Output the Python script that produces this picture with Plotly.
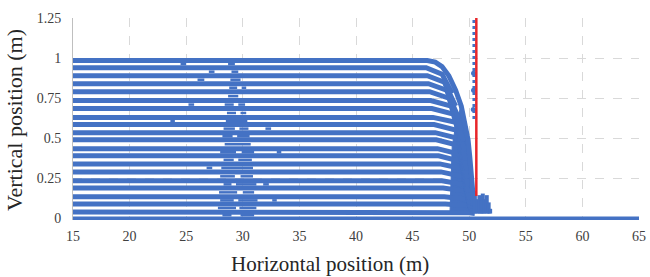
import plotly.graph_objects as go

# ---------------- data ----------------
# particle layers (m): height of each layer
row_y = [0.04, 0.09, 0.135, 0.19, 0.235, 0.29, 0.34, 0.39, 0.435, 0.49,
         0.535, 0.585, 0.63, 0.685, 0.735, 0.79, 0.84, 0.89, 0.94]
row_start_x = 15
row_flat_end_x = [48.0, 47.9, 47.8, 47.7, 47.6, 47.5, 47.4, 47.3, 47.2, 47.1,
                  47.0, 46.9, 46.8, 46.7, 46.6, 46.5, 46.4, 46.3, 46.2]
row_mid_x = [50.0, 49.9, 49.8, 49.7, 49.6, 49.5, 49.4, 49.3, 49.2, 49.1,
             49.0, 48.9, 48.8, 48.6, 48.4, 48.2, 48.0, 47.8, 47.6]
row_mid_y = [0.035, 0.08, 0.12, 0.17, 0.21, 0.26, 0.31, 0.355, 0.40, 0.455,
             0.50, 0.55, 0.60, 0.65, 0.70, 0.75, 0.80, 0.85, 0.90]
row_end_x = [50.5, 50.4, 50.3, 50.2, 50.15, 50.1, 50.05, 50.0, 49.95, 49.9,
             49.85, 49.8, 49.7, 49.6, 49.5, 49.3, 49.1, 48.8, 48.5]
row_end_y = [0.03, 0.04, 0.045, 0.05, 0.06, 0.07, 0.09, 0.12, 0.16, 0.20,
             0.25, 0.30, 0.36, 0.42, 0.48, 0.55, 0.62, 0.70, 0.78]

# free-surface layer (top row) and its falling front
surface_x = [15, 46.3, 47.0, 47.6, 48.2, 48.8, 49.3, 49.6, 49.9, 50.05, 50.2, 50.3, 50.35]
surface_y = [0.985, 0.985, 0.975, 0.947, 0.89, 0.80, 0.70, 0.60, 0.49, 0.385, 0.28, 0.18, 0.08]

# densely packed particles behind the front
front_mass_x = [48.3, 48.5, 48.9, 49.3, 49.6, 49.9, 50.05, 50.2, 50.3, 50.35, 48.3]
front_mass_y = [0.03, 0.45, 0.62, 0.70, 0.60, 0.49, 0.385, 0.28, 0.18, 0.03, 0.03]

# disturbed particles filling gaps between layers near x = 28-31 m
gap_x0 = [28.2, 29.8, 27.8, 29.7, 28.0, 29.6, 27.9, 30.0, 28.3, 29.4, 28.0, 29.8,
          28.1, 28.3, 29.6, 28.0, 29.9, 28.4, 28.2, 29.5, 28.3, 29.7, 28.5,
          28.6, 29.8, 28.4, 29.6, 28.7, 28.8, 29.9, 28.9, 29.0, 28.7,
          24.5, 26.0, 25.2, 32.0, 33.0, 31.8, 26.8, 32.6, 23.6, 27.0]
gap_x1 = [29.0, 31.0, 29.4, 31.2, 29.2, 31.3, 29.5, 31.0, 29.0, 31.2, 29.3, 30.9,
          30.9, 29.2, 30.8, 29.4, 31.0, 30.7, 29.1, 30.6, 29.3, 30.5, 30.4,
          29.4, 30.3, 29.2, 30.2, 29.6, 29.5, 30.3, 29.8, 29.6, 29.3,
          25.0, 26.6, 25.7, 32.5, 33.4, 32.3, 27.3, 33.0, 24.0, 27.5]
gap_y = [0.02, 0.02, 0.065, 0.065, 0.1125, 0.1125, 0.1625, 0.1625, 0.2125, 0.2125,
         0.2625, 0.2625, 0.315, 0.365, 0.365, 0.4125, 0.4125, 0.4625, 0.5125, 0.5125,
         0.56, 0.56, 0.6075, 0.6575, 0.6575, 0.71, 0.71, 0.7625, 0.815, 0.815,
         0.865, 0.915, 0.9625,
         0.9625, 0.865, 0.71, 0.56, 0.4125, 0.2125, 0.315, 0.1125, 0.6075, 0.915]

# splash at the foot of the wall
splash_x = [50.5, 50.7, 50.9, 51.05, 51.2, 51.35, 51.55, 51.72, 51.85]
splash_top = [0.17, 0.12, 0.145, 0.11, 0.155, 0.12, 0.145, 0.10, 0.06]
splash_base = 0.03

# bed (floor particles)
floor_x = [15, 65]
floor_y = [0, 0]

# particles along the wall
wall_particle_x = [50.42, 50.42]
wall_particle_y = [0.62, 1.25]
blob_x = [50.38, 50.38, 50.36]
blob_y = [0.906, 0.80, 0.68]

# wall (red)
wall_x = [50.63, 50.63]
wall_y = [0.14, 1.25]

x_ticks = [15, 20, 25, 30, 35, 40, 45, 50, 55, 60, 65]
y_ticks = [0, 0.25, 0.5, 0.75, 1, 1.25]
y_tick_labels = ["0", "0.25", "0.5", "0.75", "1", "1.25"]

BLUE = "#4472C4"
RED = "#E8262A"
FONT = "Liberation Serif"

# ---------------- build ----------------
fig = go.Figure()

fig.add_trace(go.Scatter(x=front_mass_x, y=front_mass_y, mode="lines", fill="toself",
                         fillcolor=BLUE, line=dict(color=BLUE, width=1), hoverinfo="skip"))

lx, ly = [], []
for i, y in enumerate(row_y):
    lx += [row_start_x, row_flat_end_x[i], row_mid_x[i], row_end_x[i], None]
    ly += [y, y, row_mid_y[i], row_end_y[i], None]
fig.add_trace(go.Scatter(x=lx, y=ly, mode="lines",
                         line=dict(color=BLUE, width=5), hoverinfo="skip"))

fig.add_trace(go.Scatter(x=surface_x, y=surface_y, mode="lines",
                         line=dict(color=BLUE, width=5), hoverinfo="skip"))

gx, gy = [], []
for a, b, y in zip(gap_x0, gap_x1, gap_y):
    gx += [a, b, None]
    gy += [y, y, None]
fig.add_trace(go.Scatter(x=gx, y=gy, mode="lines",
                         line=dict(color=BLUE, width=2.5), hoverinfo="skip"))

sx, sy = [], []
for x, t in zip(splash_x, splash_top):
    sx += [x, x, None]
    sy += [splash_base, t, None]
fig.add_trace(go.Scatter(x=sx, y=sy, mode="lines",
                         line=dict(color=BLUE, width=4), hoverinfo="skip"))

fig.add_trace(go.Scatter(x=floor_x, y=floor_y, mode="lines",
                         line=dict(color=BLUE, width=4), hoverinfo="skip"))

fig.add_trace(go.Scatter(x=wall_particle_x, y=wall_particle_y, mode="lines",
                         line=dict(color=BLUE, width=3, dash="dot"), hoverinfo="skip"))
fig.add_trace(go.Scatter(x=blob_x, y=blob_y, mode="markers",
                         marker=dict(color=BLUE, size=5), hoverinfo="skip"))

fig.add_trace(go.Scatter(x=wall_x, y=wall_y, mode="lines",
                         line=dict(color=RED, width=2.5), hoverinfo="skip"))

fig.update_layout(
    width=650, height=277,
    margin=dict(l=73, r=11, t=18, b=57, autoexpand=False),
    paper_bgcolor="white", plot_bgcolor="white",
    showlegend=False,
    font=dict(family=FONT, color="#404040", size=14),
    annotations=[
        dict(text="Horizontal position (m)", xref="paper", yref="paper",
             x=0.454, y=0, yshift=-44, xanchor="center", yanchor="middle",
             showarrow=False, font=dict(family=FONT, size=21, color="#262626")),
        dict(text="Vertical position (m)", xref="paper", yref="paper",
             x=0, y=0.495, xshift=-59, xanchor="center", yanchor="middle",
             textangle=-90, showarrow=False,
             font=dict(family=FONT, size=22, color="#262626")),
    ],
)
fig.update_xaxes(
    range=[15, 65], tickvals=x_ticks, automargin=False,
    showgrid=True, gridcolor="#D9D9D9", griddash="dash", gridwidth=1,
    zeroline=False, showline=False,
    ticks="outside", ticklen=3, tickcolor="rgba(0,0,0,0)",
    tickfont=dict(family=FONT, size=14, color="#404040"),
)
fig.update_yaxes(
    range=[-0.01, 1.25], tickvals=y_ticks, ticktext=y_tick_labels, automargin=False,
    showgrid=True, gridcolor="#D9D9D9", griddash="dash", gridwidth=1,
    zeroline=False, showline=True, linecolor="#BFBFBF", linewidth=1,
    ticks="outside", ticklen=8, tickcolor="rgba(0,0,0,0)",
    tickfont=dict(family=FONT, size=14, color="#404040"),
)

fig.write_html("out.html", config={"displayModeBar": False},
               post_script="document.body.style.margin='0';")
